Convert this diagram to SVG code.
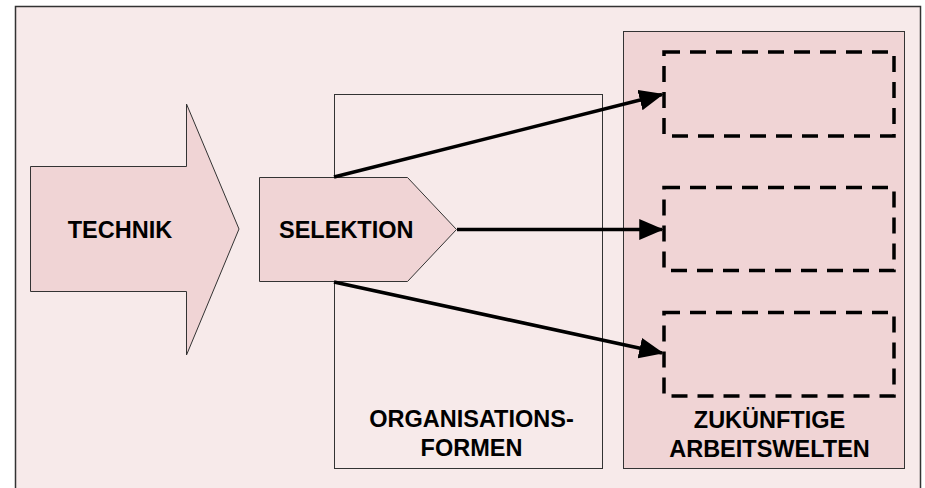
<svg xmlns="http://www.w3.org/2000/svg" width="925" height="488" viewBox="0 0 925 488">
<style>
.shape{fill:#f0d4d5;stroke:#333;stroke-width:1}
.lbl{font-family:"Liberation Sans",Arial,sans-serif;font-weight:bold;font-size:23.5px;fill:#000}
.dash{fill:none;stroke:#000;stroke-width:3.5;stroke-dasharray:16 10}
.conn{stroke:#000;stroke-width:3.5;fill:none;marker-end:url(#ah)}
</style>
<defs>
<marker id="ah" markerWidth="7" markerHeight="6" refX="6.5" refY="3" orient="auto" markerUnits="strokeWidth">
<path d="M0,0 L7,3 L0,6 Z" fill="#000"/>
</marker>
</defs>
<rect x="0" y="0" width="925" height="488" fill="#fff"/>
<rect x="15.5" y="6.5" width="905" height="490" fill="#f7eaea" stroke="#333" stroke-width="1.5"/>
<g id="organisationsformen">
<rect x="334.5" y="94.5" width="268" height="374" fill="none" stroke="#333" stroke-width="1"/>
<text class="lbl" x="471.5" y="427" text-anchor="middle">ORGANISATIONS-</text>
<text class="lbl" x="471.5" y="456" text-anchor="middle">FORMEN</text>
</g>
<g id="arbeitswelten">
<rect class="shape" x="623.5" y="31.5" width="281" height="437"/>
<text class="lbl" x="769.5" y="428" text-anchor="middle">ZUKÜNFTIGE</text>
<text class="lbl" x="769.5" y="457" text-anchor="middle">ARBEITSWELTEN</text>
</g>
<g id="welt1"><rect class="dash" x="664" y="52" width="230" height="84"/></g>
<g id="welt2"><rect class="dash" x="664" y="187.5" width="230" height="83"/></g>
<g id="welt3"><rect class="dash" x="664" y="312.5" width="230" height="83.5"/></g>
<g id="technik">
<polygon class="shape" points="30.5,166.5 186.5,166.5 186.5,104 239,229 186.5,355 186.5,291.5 30.5,291.5"/>
<text class="lbl" x="120" y="238" text-anchor="middle">TECHNIK</text>
</g>
<g id="selektion">
<polygon class="shape" points="259.5,177.5 407.5,177.5 456.5,229.5 407.5,281.5 259.5,281.5"/>
<text class="lbl" x="279" y="238">SELEKTION</text>
</g>
<g id="connectors">
<line class="conn" x1="334" y1="177" x2="662" y2="94.5"/>
<line class="conn" x1="457" y1="229.5" x2="662" y2="229.5"/>
<line class="conn" x1="334" y1="282" x2="662" y2="353"/>
</g>
</svg>
